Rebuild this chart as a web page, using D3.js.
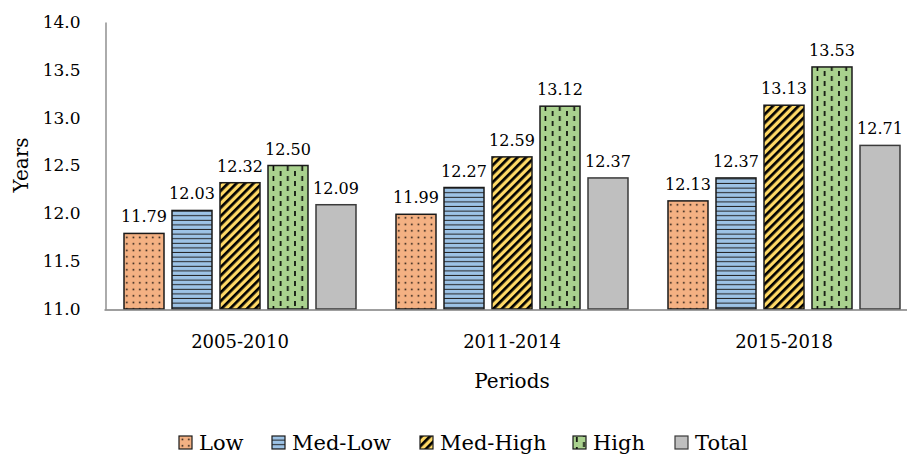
<!DOCTYPE html>
<html>
<head>
<meta charset="utf-8">
<script src="https://cdn.jsdelivr.net/npm/d3@7"></script>
<style>
  body { margin: 0; background: #fff; }
  text { font-family: "DejaVu Serif", serif; fill: #000; }
</style>
</head>
<body>
<div id="chart"></div>
<script>
var periods = ["2005-2010", "2011-2014", "2015-2018"];
var series = ["Low", "Med-Low", "Med-High", "High", "Total"];
var lowVals = [11.79, 11.99, 12.13];
var medLowVals = [12.03, 12.27, 12.37];
var medHighVals = [12.32, 12.59, 13.13];
var highVals = [12.50, 13.12, 13.53];
var totalVals = [12.09, 12.37, 12.71];
var yTicks = [11.0, 11.5, 12.0, 12.5, 13.0, 13.5, 14.0];

var valuesBySeries = {
  "Low": lowVals, "Med-Low": medLowVals, "Med-High": medHighVals,
  "High": highVals, "Total": totalVals
};

var width = 907, height = 456;

var svg = d3.select('#chart').append('svg')
  .attr('width', width).attr('height', height);

// patterns
var defs = svg.append('defs');

var pLow = defs.append('pattern').attr('id', 'p-Low')
  .attr('patternUnits', 'userSpaceOnUse').attr('width', 6.5).attr('height', 6.5);
pLow.append('rect').attr('width', 6.5).attr('height', 6.5).attr('fill', '#F4B183');
pLow.append('rect').attr('x', 2.6).attr('y', 2.6).attr('width', 1.5).attr('height', 1.5).attr('fill', '#000');

var pMl = defs.append('pattern').attr('id', 'p-Med-Low')
  .attr('patternUnits', 'userSpaceOnUse').attr('width', 8).attr('height', 4.6);
pMl.append('rect').attr('width', 8).attr('height', 4.6).attr('fill', '#9DC3E6');
pMl.append('rect').attr('y', 3.6).attr('width', 8).attr('height', 1).attr('fill', '#222');

var pMh = defs.append('pattern').attr('id', 'p-Med-High')
  .attr('patternUnits', 'userSpaceOnUse').attr('width', 6).attr('height', 6)
  .attr('patternTransform', 'rotate(45)');
pMh.append('rect').attr('width', 6).attr('height', 6).attr('fill', '#FFD966');
pMh.append('rect').attr('x', 0).attr('width', 2.7).attr('height', 6).attr('fill', '#000');

var pHi = defs.append('pattern').attr('id', 'p-High')
  .attr('patternUnits', 'userSpaceOnUse').attr('width', 14.4).attr('height', 10);
pHi.append('rect').attr('width', 14.4).attr('height', 10).attr('fill', '#A9D18E');
pHi.append('rect').attr('x', 3).attr('y', 1).attr('width', 1.6).attr('height', 5).attr('fill', '#000');
pHi.append('rect').attr('x', 10.2).attr('y', 6).attr('width', 1.6).attr('height', 5).attr('fill', '#000');
pHi.append('rect').attr('x', 10.2).attr('y', -4).attr('width', 1.6).attr('height', 5).attr('fill', '#000');

var pTot = defs.append('pattern').attr('id', 'p-Total')
  .attr('patternUnits', 'userSpaceOnUse').attr('width', 4).attr('height', 4);
pTot.append('rect').attr('width', 4).attr('height', 4).attr('fill', '#BFBFBF');

var strokeCol = { "Low": "#1a1a1a", "Med-Low": "#1a1a1a", "Med-High": "#1a1a1a", "High": "#1a1a1a", "Total": "#3a3a3a" };

// scales
var x0 = d3.scaleBand().domain(periods).range([104, 920]);
var x1 = d3.scaleBand().domain(series).range([0, x0.bandwidth()])
  .paddingInner(0.1667).paddingOuter(0.4167);
var y = d3.scaleLinear().domain([11, 14]).range([309, 22]);

// axes
var yAxis = svg.append('g').attr('transform', 'translate(105.5,0)')
  .call(d3.axisLeft(y).tickValues(yTicks).tickSize(0).tickPadding(25).tickFormat(d3.format('.1f')));
yAxis.select('.domain').attr('stroke', '#7f7f7f').attr('stroke-width', 1.3);
yAxis.selectAll('text').style('font-size', '17px').style('font-family', '"DejaVu Serif", serif');

// bars
var groups = svg.append('g').selectAll('g').data(periods).enter().append('g')
  .attr('transform', function(d) { return 'translate(' + x0(d) + ',0)'; });

groups.selectAll('rect').data(function(d, i) {
    return series.map(function(s) { return { key: s, value: valuesBySeries[s][i] }; });
  }).enter().append('rect')
  .attr('x', function(d) { return x1(d.key); })
  .attr('y', function(d) { return y(d.value); })
  .attr('width', x1.bandwidth())
  .attr('height', function(d) { return y(11) - y(d.value); })
  .attr('fill', function(d) { return 'url(#p-' + d.key + ')'; })
  .attr('stroke', function(d) { return strokeCol[d.key]; })
  .attr('stroke-width', 1.5);

groups.selectAll('text.val').data(function(d, i) {
    return series.map(function(s) { return { key: s, value: valuesBySeries[s][i] }; });
  }).enter().append('text')
  .attr('class', 'val')
  .attr('x', function(d) { return x1(d.key) + x1.bandwidth() / 2; })
  .attr('y', function(d) { return y(d.value) - 11; })
  .attr('text-anchor', 'middle')
  .style('font-size', '16px')
  .text(function(d) { return d.value.toFixed(2); });

var xAxis = svg.append('g').attr('transform', 'translate(0,309.5)')
  .call(d3.axisBottom(x0).tickSize(0).tickPadding(26));
xAxis.select('.domain').attr('stroke', '#7f7f7f').attr('stroke-width', 1.3);
xAxis.selectAll('text').style('font-size', '18px').style('font-family', '"DejaVu Serif", serif');

// axis titles
svg.append('text').attr('transform', 'translate(28,165) rotate(-90)')
  .attr('text-anchor', 'middle').style('font-size', '20px').text('Years');
svg.append('text').attr('x', 512).attr('y', 388)
  .attr('text-anchor', 'middle').style('font-size', '20px').text('Periods');

// legend
var legendX = [179, 272, 420, 573, 675];
var legend = svg.append('g').selectAll('g').data(series).enter().append('g')
  .attr('transform', function(d, i) { return 'translate(' + legendX[i] + ',436)'; });
legend.append('rect').attr('width', 13).attr('height', 13)
  .attr('fill', function(d) { return 'url(#p-' + d + ')'; })
  .attr('stroke', function(d) { return strokeCol[d]; }).attr('stroke-width', 1.2);
legend.append('text').attr('x', 20).attr('y', 14)
  .style('font-size', '21px').text(function(d) { return d; });
</script>
</body>
</html>
